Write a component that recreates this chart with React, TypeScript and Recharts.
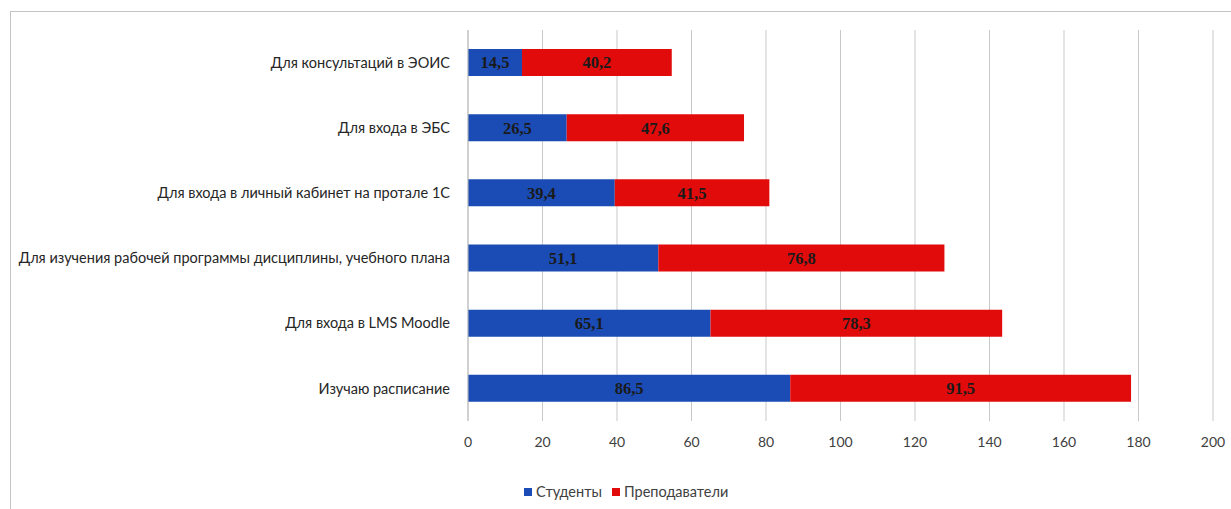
import { Bar, BarChart, CartesianGrid, LabelList, XAxis, YAxis } from 'recharts'

const categories = [
  'Для консультаций в ЭОИС',
  'Для входа в ЭБС',
  'Для входа в личный кабинет на протале 1С',
  'Для изучения рабочей программы дисциплины, учебного плана',
  'Для входа в LMS Moodle',
  'Изучаю расписание',
]
const students = [14.5, 26.5, 39.4, 51.1, 65.1, 86.5]
const teachers = [40.2, 47.6, 41.5, 76.8, 78.3, 91.5]
const xTicks = [0, 20, 40, 60, 80, 100, 120, 140, 160, 180, 200]
const seriesNames = ['Студенты', 'Преподаватели']

const BLUE = '#1b4cb5'
const RED = '#e20b0b'

const data = categories.map((name, i) => ({
  name,
  students: students[i],
  teachers: teachers[i],
}))

const fmt = (v: any) => String(v).replace('.', ',')

const labelStyle = {
  fontFamily: '"Liberation Serif", serif',
  fontWeight: 700,
  fontSize: 16.5,
  fill: '#1a1a1a',
}

export default function App() {
  return (
    <div style={{ position: 'absolute', left: 0, top: 0, width: 1231, height: 509, background: '#fff', fontFamily: 'Lato, sans-serif' }}>
      <div
        style={{
          position: 'absolute',
          left: 10,
          top: 11,
          right: 0,
          bottom: 0,
          borderTop: '1px solid #c4c4c4',
          borderLeft: '1px solid #c4c4c4',
        }}
      />
      <BarChart
        width={1231}
        height={509}
        data={data}
        layout="vertical"
        margin={{ top: 30, right: 18, left: 0, bottom: 44 }}
        barSize={27}
      >
        <CartesianGrid horizontal={false} stroke="#c9c9c9" />
        <XAxis
          type="number"
          domain={[0, 200]}
          ticks={xTicks}
          axisLine={false}
          tickLine={false}
          tickMargin={10}
          tick={{ fill: '#404040', fontSize: 14 }}
          interval={0}
          height={44}
        />
        <YAxis
          type="category"
          dataKey="name"
          width={468}
          axisLine={{ stroke: '#bdbdbd' }}
          tickLine={false}
          tickMargin={12}
          tick={{ fill: '#262626', fontSize: 14.5 }}
          interval={0}
        />
        <Bar dataKey="students" name={seriesNames[0]} stackId="a" fill={BLUE} isAnimationActive={false}>
          <LabelList dataKey="students" position="center" formatter={fmt} style={labelStyle} />
        </Bar>
        <Bar dataKey="teachers" name={seriesNames[1]} stackId="a" fill={RED} isAnimationActive={false}>
          <LabelList dataKey="teachers" position="center" formatter={fmt} style={labelStyle} />
        </Bar>
      </BarChart>
      <div
        style={{
          position: 'absolute',
          left: 524,
          top: 483,
          display: 'flex',
          gap: 10,
          fontSize: 14.5,
          color: '#404040',
        }}
      >
        {seriesNames.map((n, i) => (
          <div key={n} style={{ display: 'flex', alignItems: 'center' }}>
            <span style={{ width: 8, height: 8, background: i === 0 ? BLUE : RED, marginRight: 4 }} />
            {n}
          </div>
        ))}
      </div>
    </div>
  )
}
